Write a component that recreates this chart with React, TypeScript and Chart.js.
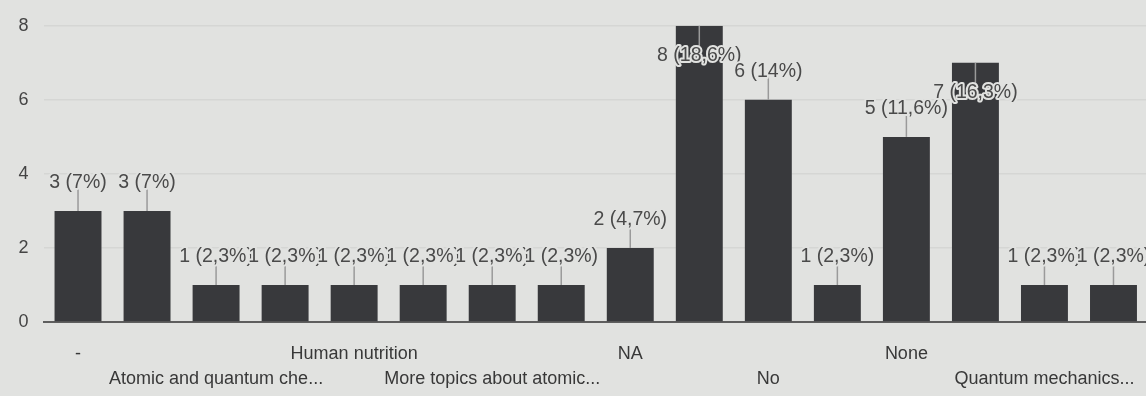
import React, { useEffect, useRef } from "react";
import { Chart, registerables } from "chart.js";

Chart.register(...registerables);

// ---- data ----
const categories: string[] = [
  "-", "", "Atomic and quantum che...", "", "Human nutrition", "", "More topics about atomic...", "",
  "NA", "", "No", "", "None", "", "Quantum mechanics...", "",
];
const counts: number[] = [3, 3, 1, 1, 1, 1, 1, 1, 2, 8, 6, 1, 5, 7, 1, 1];
const yTicks: number[] = [0, 2, 4, 6, 8];

const BG = "#e1e2e0";
const BAR = "#38393c";
const FONT = "'Liberation Sans', Arial, sans-serif";

const total = counts.reduce((a, b) => a + b, 0);
const pctLabel = (v: number) => {
  const p = Math.round((v / total) * 1000) / 10;
  return `${v} (${String(p).replace(".", ",")}%)`;
};

const dataLabelPlugin = {
  id: "dataLabels",
  afterDatasetsDraw(chart: any) {
    const ctx = chart.ctx;
    const meta = chart.getDatasetMeta(0);
    ctx.save();
    ctx.font = `19.5px ${FONT}`;
    ctx.textAlign = "center";
    ctx.textBaseline = "middle";
    meta.data.forEach((el: any, i: number) => {
      const v = counts[i];
      const x = el.x;
      const top = el.y;
      const inside = v >= 7;
      const ty = inside ? top + 30 : top - 28;
      ctx.strokeStyle = "#9a9a9a";
      ctx.lineWidth = 1.5;
      ctx.beginPath();
      if (inside) {
        ctx.moveTo(x, top);
        ctx.lineTo(x, ty - 4);
      } else {
        ctx.moveTo(x, top);
        ctx.lineTo(x, ty + 2);
      }
      ctx.stroke();
      const txt = pctLabel(v);
      ctx.lineWidth = 4;
      ctx.lineJoin = "round";
      ctx.strokeStyle = BG;
      ctx.strokeText(txt, x, ty);
      ctx.fillStyle = "#4a4a4a";
      ctx.fillText(txt, x, ty);
    });
    ctx.restore();
  },
};

export default function App() {
  const ref = useRef<HTMLCanvasElement>(null);
  useEffect(() => {
    document.body.style.margin = "0";
    document.body.style.overflow = "hidden";
    document.body.style.background = BG;
    const chart = new Chart(ref.current!, {
      type: "bar",
      data: {
        labels: categories,
        datasets: [
          {
            data: counts,
            backgroundColor: BAR,
            barPercentage: 0.68,
            categoryPercentage: 1,
          },
        ],
      },
      options: {
        responsive: false,
        animation: false,
        layout: { padding: { top: 25, left: 0, right: 0, bottom: 0 } },
        plugins: { legend: { display: false }, tooltip: { enabled: false } },
        scales: {
          x: {
            grid: { display: false, drawTicks: false },
            border: { display: true, color: "#5e5e5e", width: 2 },
            ticks: {
              autoSkip: false,
              maxRotation: 0,
              minRotation: 0,
              padding: 20,
              color: "#383838",
              font: { family: FONT, size: 18, lineHeight: "25px" } as any,
              callback: (_v: any, i: number) => {
                const lab = categories[i];
                if (!lab) return "";
                return i % 4 === 0 ? [lab, ""] : ["", lab];
              },
            },
            afterFit: (s: any) => {
              s.height = 74;
            },
          },
          y: {
            min: 0,
            max: 8,
            afterBuildTicks: (s: any) => {
              s.ticks = yTicks.map((v) => ({ value: v }));
            },
            grid: { color: "rgba(0,0,0,0.05)", lineWidth: 1.5, drawTicks: false },
            border: { display: false },
            ticks: {
              padding: 15,
              color: "#444444",
              font: { family: FONT, size: 18 },
            },
            afterFit: (s: any) => {
              s.width = 43.5;
            },
          },
        },
      },
      plugins: [dataLabelPlugin],
    });
    return () => chart.destroy();
  }, []);
  return (
    <div style={{ position: "fixed", left: 0, top: 0, width: 1148, height: 396, background: BG }}>
      <canvas ref={ref} width={1148} height={396} style={{ display: "block" }} />
    </div>
  );
}
